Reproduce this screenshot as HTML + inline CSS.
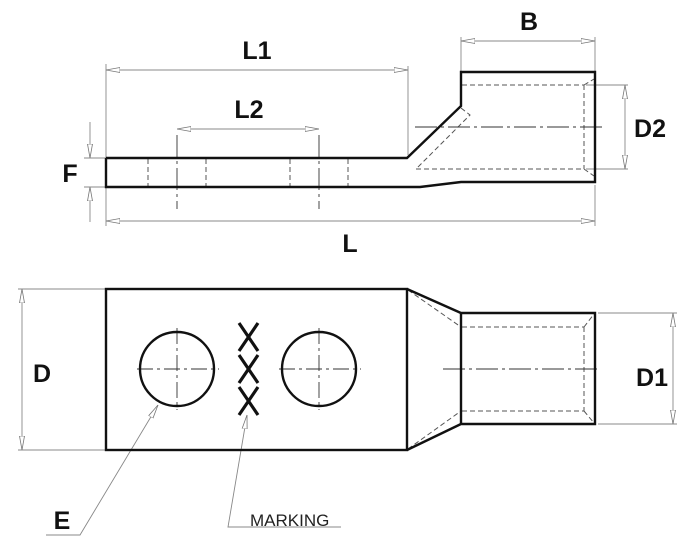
<!DOCTYPE html>
<html><head><style>html,body{margin:0;padding:0;background:#fff}svg{display:block}</style></head>
<body>
<svg width="700" height="554" viewBox="0 0 700 554" xmlns="http://www.w3.org/2000/svg" font-family="Liberation Sans, sans-serif">
<defs>
<marker id="a" viewBox="0 0 14 6" refX="14" refY="3" markerWidth="14" markerHeight="6" markerUnits="userSpaceOnUse" orient="auto-start-reverse">
<path d="M0,0.5 L14,3 L0,5.5 Z" fill="#fff" stroke="#777" stroke-width="0.8"/>
</marker>
</defs>
<g stroke="#888" stroke-width="0.9" fill="none">
<line x1="106" y1="64" x2="106" y2="226"/>
<line x1="408" y1="66" x2="408" y2="155"/>
<line x1="461" y1="37" x2="461" y2="72"/>
<line x1="595" y1="37" x2="595" y2="72"/>
<line x1="595" y1="185" x2="595" y2="226"/>
<line x1="586" y1="85" x2="628" y2="85"/>
<line x1="586" y1="169" x2="628" y2="169"/>
<line x1="84" y1="158" x2="106" y2="158"/>
<line x1="84" y1="187" x2="106" y2="187"/>
<line x1="106" y1="70" x2="408" y2="70" marker-start="url(#a)" marker-end="url(#a)"/>
<line x1="177" y1="129" x2="319" y2="129" marker-start="url(#a)" marker-end="url(#a)"/>
<line x1="106" y1="221" x2="595" y2="221" marker-start="url(#a)" marker-end="url(#a)"/>
<line x1="461" y1="41" x2="595" y2="41" marker-start="url(#a)" marker-end="url(#a)"/>
<line x1="625" y1="85" x2="625" y2="169" marker-start="url(#a)" marker-end="url(#a)"/>
<line x1="90" y1="122" x2="90" y2="158" marker-end="url(#a)"/>
<line x1="90" y1="222" x2="90" y2="187" marker-end="url(#a)"/>
<line x1="18" y1="289" x2="106" y2="289"/>
<line x1="18" y1="450" x2="106" y2="450"/>
<line x1="22" y1="289" x2="22" y2="450" marker-start="url(#a)" marker-end="url(#a)"/>
<line x1="598" y1="313" x2="677" y2="313"/>
<line x1="598" y1="424" x2="677" y2="424"/>
<line x1="673" y1="313" x2="673" y2="424" marker-start="url(#a)" marker-end="url(#a)"/>
<polyline points="46,535 80,535 158,405" marker-end="url(#a)"/>
<polyline points="341,527 228,527 247,415" marker-end="url(#a)"/>
</g>
<g stroke="#555" stroke-width="1" fill="none" stroke-dasharray="5,3">
<line x1="148" y1="159" x2="148" y2="186"/>
<line x1="206" y1="159" x2="206" y2="186"/>
<line x1="290" y1="159" x2="290" y2="186"/>
<line x1="348" y1="159" x2="348" y2="186"/>
<line x1="462" y1="85" x2="584" y2="85"/>
<line x1="416" y1="169" x2="584" y2="169"/>
<line x1="584" y1="85" x2="584" y2="169"/>
<line x1="584" y1="85" x2="594" y2="79"/>
<line x1="584" y1="169" x2="594" y2="176"/>
<polyline points="461,108 470,115 416,169"/>
<line x1="462" y1="327" x2="584" y2="327"/>
<line x1="462" y1="411" x2="584" y2="411"/>
<line x1="584" y1="327" x2="584" y2="411"/>
<line x1="584" y1="327" x2="594" y2="314"/>
<line x1="584" y1="411" x2="594" y2="423"/>
<line x1="408" y1="290" x2="461" y2="327"/>
<line x1="408" y1="449" x2="461" y2="411"/>
</g>
<g stroke="#333" stroke-width="0.9" fill="none" stroke-dasharray="22,4,3,4">
<line x1="177" y1="135" x2="177" y2="209"/>
<line x1="319" y1="135" x2="319" y2="209"/>
<line x1="415" y1="127" x2="602" y2="127"/>
<line x1="443" y1="369" x2="600" y2="369"/>
</g>
<g stroke="#333" stroke-width="0.9" fill="none" stroke-dasharray="16,4,3,4">
<line x1="137" y1="369" x2="219" y2="369"/>
<line x1="177" y1="328" x2="177" y2="410"/>
<line x1="279" y1="369" x2="361" y2="369"/>
<line x1="319" y1="328" x2="319" y2="410"/>
</g>
<g stroke="#111" stroke-width="2.4" fill="none" stroke-linejoin="miter">
<polyline points="106,158 407,158 461,106 461,72 595,72 595,182 461,182 420,187 106,187 106,158"/>
<rect x="106" y="289" width="301" height="161"/>
<polyline points="407,289 461,313 595,313 595,424 461,424 407,450"/>
<line x1="461" y1="313" x2="461" y2="424"/>
<circle cx="177" cy="369" r="37"/>
<circle cx="319" cy="369" r="37"/>
</g>
<g stroke="#111" stroke-width="3.2" fill="none">
<path d="M239,323 L258,351 M258,323 L239,351 M239,355 L258,383 M258,355 L239,383 M239,387 L258,415 M258,387 L239,415"/>
</g>
<g fill="#111" font-size="25" text-anchor="middle" font-weight="bold">
<text x="257" y="59">L1</text>
<text x="249" y="118">L2</text>
<text x="350" y="252">L</text>
<text x="529" y="30">B</text>
<text x="650" y="137">D2</text>
<text x="70" y="182">F</text>
<text x="42" y="382">D</text>
<text x="652" y="386">D1</text>
<text x="62" y="529">E</text>
</g>
<text x="250" y="526" font-size="17" fill="#222">MARKING</text>
</svg>
</body></html>
